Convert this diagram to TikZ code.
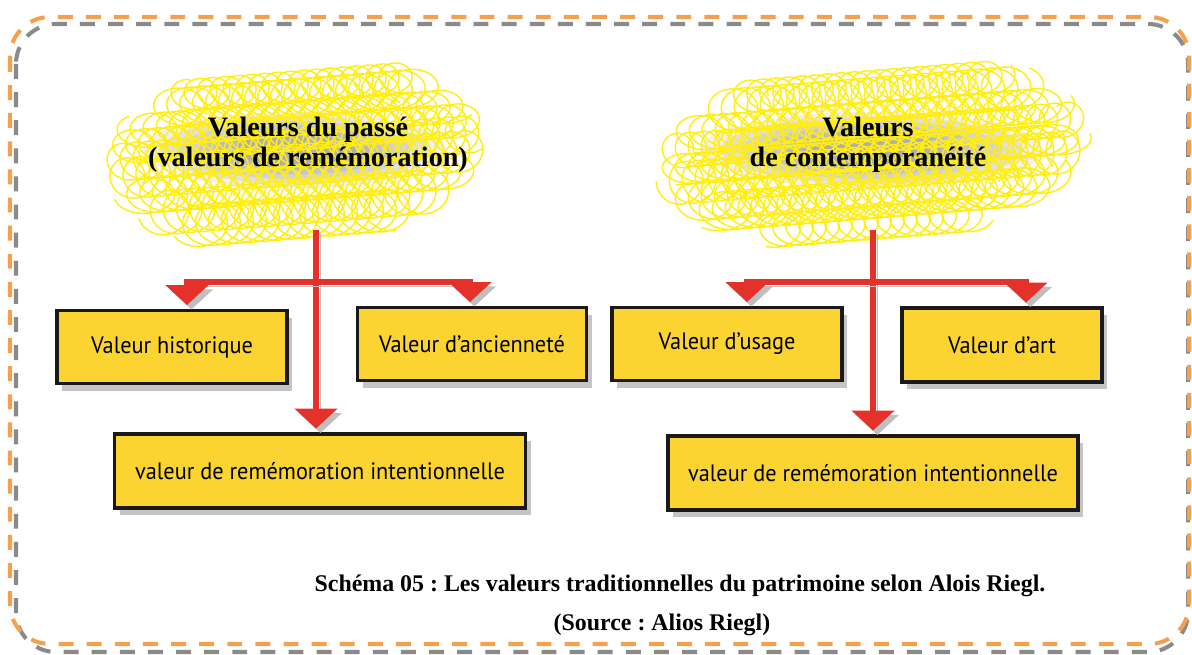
\documentclass[tikz,border=0pt]{standalone}
\usepackage{fontspec}
\setmainfont{Liberation Serif}[BoldFont={Liberation Serif Bold}]
\newfontfamily\boxfont[FakeStretch=0.94]{PT Sans}
\usetikzlibrary{arrows.meta,shadows,positioning}
\frenchspacing

\definecolor{boxyellow}{HTML}{FBD431}
\definecolor{scribble}{HTML}{FFEE10}
\definecolor{arrowred}{HTML}{E4322B}
\definecolor{frameorange}{HTML}{F6A04D}
\definecolor{framegray}{HTML}{8A8A8A}

% yellow scribbled cloud: centre x, centre y, half width, half height
\newcommand{\scribblecloud}[4]{%
	\foreach \s in {1.0,0.88,...,0.3}
		\fill[black, opacity=0.06] (#1,#2) ellipse [x radius=0.8*#3*\s, y radius=0.45*#4*\s];
	\foreach \k in {-4,...,4}{
		\pgfmathsetmacro{\dy}{\k*17+rnd*8-4}
		\pgfmathsetmacro{\hw}{#3*sqrt(max(0,1-(\dy/#4)^2))}
		\pgfmathsetmacro{\ax}{18+rnd*12}
		\pgfmathsetmacro{\ay}{14+rnd*8}
		\pgfmathsetmacro{\nl}{max(1,(2*\hw-2*\ax+10)/13)}
		\pgfmathsetmacro{\ns}{int(\nl*16)+2}
		\pgfmathsetmacro{\ph}{rnd*360}
		\draw[scribble, line width=0.8pt] plot[domain=0:\nl, samples=\ns, smooth, variable=\u]
			({#1-\hw+\ax-5+13*\u+\ax*sin(360*mod(\u,1)+\ph)}, {#2+\dy+\ay*cos(360*mod(\u,1)+\ph)-0.08*(13*\u-\hw)});
	}
}

\begin{document}
\begin{tikzpicture}[x=0.02cm, y=-0.02cm,
	valbox/.style={draw=black!90, line width=2.2pt, fill=boxyellow, inner sep=0pt,
		drop shadow={opacity=0.45, shadow xshift=3pt, shadow yshift=-4pt},
		font=\boxfont\fontsize{13.5}{16}\selectfont},
	cloudtext/.style={font=\rmfamily\bfseries\fontsize{16}{17}\selectfont, align=center},
	captext/.style={font=\rmfamily\bfseries\fontsize{13.6}{16}\selectfont},
	redline/.style={draw=arrowred, line width=3.4pt, shorten >=2pt, shorten <=2pt,
		preaction={draw=black!25, transform canvas={shift={(2.5pt,-2.5pt)}}}},
	tip/.tip={Triangle[width=0.84cm, length=0.4cm]}]
	\fill[white] (0,0) rectangle (1192,646);
	%
	\draw[framegray, line width=2.3pt, dash pattern=on 8.5pt off 7.5pt, rounded corners=0.8cm] (16,24) rectangle (1188,652);
	\draw[frameorange, line width=2.3pt, dash pattern=on 8.5pt off 7.5pt, rounded corners=0.8cm] (10,17) rectangle (1189,644);
	%
	\pgfmathsetseed{7}
	\scribblecloud{295}{150}{190}{85}
	\node[cloudtext] (passe) at (308,145) {Valeurs du passé\\(valeurs de remémoration)};
	\scribblecloud{872}{150}{215}{85}
	\node[cloudtext] (contemp) at (868,145) {Valeurs\\de contemporanéité};
	%
	\node[valbox, minimum width=4.6cm, minimum height=1.46cm] (hist) at (172,347) {Valeur historique};
	\node[valbox, minimum width=4.58cm, minimum height=1.46cm] (anc) at (472,344) {Valeur d’ancienneté};
	\node[valbox, minimum width=8.22cm, minimum height=1.48cm] (inten1) at (320,471) {valeur de remémoration intentionnelle};
	\node[valbox, minimum width=4.6cm, minimum height=1.46cm] (usage) at (727,344) {Valeur d’usage};
	\node[valbox, minimum width=4.0cm, minimum height=1.48cm] (art) at (1002,345) {Valeur d’art};
	\node[valbox, minimum width=8.2cm, minimum height=1.48cm] (inten2) at (873,473) {valeur de remémoration intentionnelle};
	%
	\coordinate (top1) at (316,226);
	\coordinate (left1) at (187,282);
	\coordinate (right1) at (470,282);
	\coordinate (top2) at (873,226);
	\coordinate (left2) at (747,282);
	\coordinate (right2) at (1026,282);
	\draw[redline, -{tip}] (top1) -- (top1 |- inten1.north);
	\draw[redline, {tip}-{tip}] (left1 |- hist.north) -- (left1) -- (right1) -- (right1 |- anc.north);
	\draw[redline, -{tip}] (top2) -- (top2 |- inten2.north);
	\draw[redline, {tip}-{tip}] (left2 |- usage.north) -- (left2) -- (right2) -- (right2 |- art.north);
	%
	\node[captext] (cap) at (680,586) {Schéma 05 : Les valeurs traditionnelles du patrimoine selon Alois Riegl.};
	\node[captext] (src) at (662,625) {(Source : Alios Riegl)};
\end{tikzpicture}
\end{document}
